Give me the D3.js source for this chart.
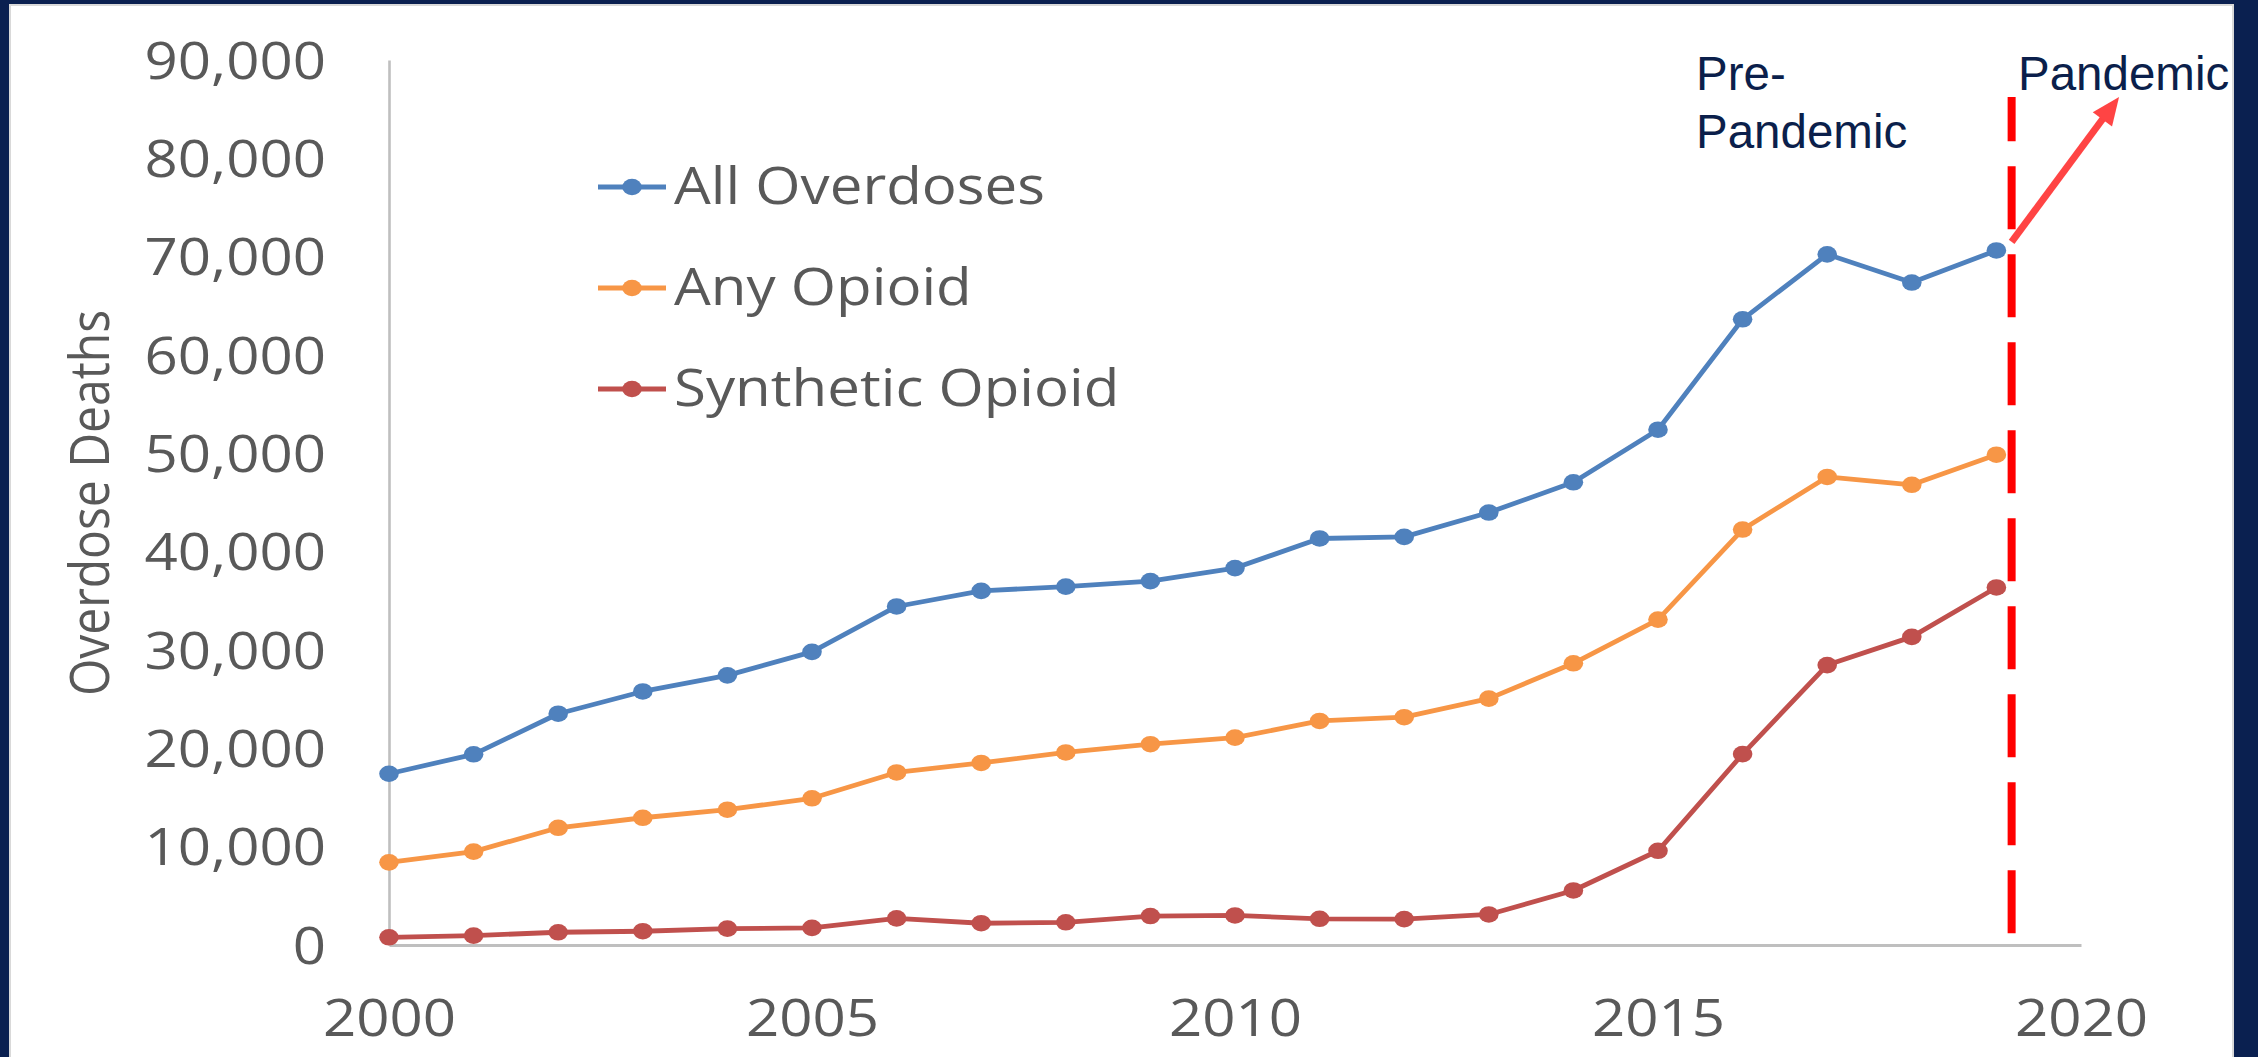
<!DOCTYPE html>
<html>
<head>
<meta charset="utf-8">
<script src="https://cdn.jsdelivr.net/npm/d3@7"></script>
<style>
  html, body { margin: 0; padding: 0; background: #0a2050; }
  svg { display: block; }
</style>
</head>
<body>
<div id="chart"></div>
<script>
// ---- data ----
const years = [2000, 2001, 2002, 2003, 2004, 2005, 2006, 2007, 2008, 2009,
               2010, 2011, 2012, 2013, 2014, 2015, 2016, 2017, 2018, 2019];
const allOverdoses = [17415, 19394, 23518, 25785, 27424, 29813, 34425, 36010, 36450, 37004,
                      38329, 41340, 41502, 43982, 47055, 52404, 63632, 70237, 67367, 70630];
const anyOpioid = [8407, 9496, 11920, 12940, 13756, 14918, 17545, 18516, 19582, 20422,
                   21089, 22784, 23166, 25052, 28647, 33091, 42249, 47600, 46802, 49860];
const syntheticOpioid = [782, 957, 1295, 1400, 1664, 1742, 2707, 2213, 2306, 2946,
                         3007, 2666, 2628, 3105, 5544, 9580, 19413, 28466, 31335, 36359];
const seriesNames = ["All Overdoses", "Any Opioid", "Synthetic Opioid"];
const seriesColors = ["#4f81bd", "#f79646", "#c0504d"];
const yTicks = [0, 10000, 20000, 30000, 40000, 50000, 60000, 70000, 80000, 90000];
const xTicks = [2000, 2005, 2010, 2015, 2020];
const yTitle = "Overdose Deaths";
// annotation: pandemic boundary and arrow (in data units)
const pandemicYear = 2019.18;
const dashRange = [1200, 86250];
const arrowFrom = [2019.18, 71500];
const arrowTo = [2020.45, 86250];
const preLabel = ["Pre-", "Pandemic"];
const postLabel = "Pandemic";

// ---- layout ----
const W = 2258, H = 1057;
const SX = 1.12; // horizontal stretch of the original picture
const svg = d3.select("#chart").append("svg").attr("width", W).attr("height", H);

svg.append("rect").attr("x", 0).attr("y", 0).attr("width", W).attr("height", H).attr("fill", "#0a2050");
svg.append("rect").attr("x", 10).attr("y", 5).attr("width", 2223).attr("height", H)
   .attr("fill", "#ffffff").attr("stroke", "#d9d9d9").attr("stroke-width", 2);

const x = d3.scaleLinear().domain([2000, 2020]).range([389, 2081]);
const y = d3.scaleLinear().domain([0, 90000]).range([945, 60]);

const textColor = "#595959";
const fontMain = "'Open Sans', sans-serif";

// y axis
const yAxis = svg.append("g").attr("transform", `translate(${x(2000)},0)`)
  .call(d3.axisLeft(y).tickValues(yTicks).tickFormat(d3.format(",")).tickSize(0).tickPadding(0));
yAxis.select(".domain").attr("stroke", "#bfbfbf").attr("stroke-width", 2.6);
yAxis.selectAll(".tick text")
  .attr("x", -63 / SX).attr("dy", "0.35em")
  .attr("transform", `scale(${SX},1)`)
  .attr("fill", textColor).attr("font-family", fontMain).attr("font-size", 52)
  .attr("text-anchor", "end");

// x axis
const xAxis = svg.append("g").attr("transform", `translate(0,${y(0)})`)
  .call(d3.axisBottom(x).tickValues(xTicks).tickFormat(d3.format("d")).tickSize(0).tickPadding(0));
xAxis.select(".domain").attr("stroke", "#bfbfbf").attr("stroke-width", 3);
xAxis.selectAll(".tick text")
  .attr("y", 73).attr("dy", "0.35em")
  .attr("transform", `scale(${SX},1)`)
  .attr("fill", textColor).attr("font-family", fontMain).attr("font-size", 52);

// y title
svg.append("text")
  .attr("transform", `translate(90,503) scale(1.15,1) rotate(-90)`)
  .attr("text-anchor", "middle").attr("dy", "0.35em")
  .attr("fill", textColor).attr("font-family", fontMain).attr("font-size", 48)
  .text(yTitle);

// series
const seriesData = [allOverdoses, anyOpioid, syntheticOpioid];
const line = d3.line().x((d, i) => x(years[i])).y(d => y(d));
seriesData.forEach((vals, si) => {
  svg.append("path").datum(vals)
    .attr("d", line).attr("fill", "none")
    .attr("stroke", seriesColors[si]).attr("stroke-width", 4.8)
    .attr("stroke-linejoin", "round");
  svg.append("g").selectAll("ellipse").data(vals).join("ellipse")
    .attr("cx", (d, i) => x(years[i])).attr("cy", d => y(d))
    .attr("rx", 9.8).attr("ry", 8.3)
    .attr("fill", seriesColors[si]);
});

// legend
const legend = svg.append("g");
seriesNames.forEach((name, i) => {
  const ly = 187 + i * 101;
  legend.append("line").attr("x1", 598).attr("x2", 666).attr("y1", ly).attr("y2", ly)
    .attr("stroke", seriesColors[i]).attr("stroke-width", 4.8);
  legend.append("ellipse").attr("cx", 632).attr("cy", ly).attr("rx", 9.8).attr("ry", 8.3)
    .attr("fill", seriesColors[i]);
  legend.append("text")
    .attr("transform", `translate(674,${ly + 17}) scale(${SX},1)`)
    .attr("fill", textColor).attr("font-family", fontMain).attr("font-size", 52)
    .text(name);
});

// pandemic dashed line
svg.append("line")
  .attr("x1", x(pandemicYear)).attr("x2", x(pandemicYear))
  .attr("y1", y(dashRange[0])).attr("y2", y(dashRange[1]))
  .attr("stroke", "#ff0000").attr("stroke-width", 8)
  .attr("stroke-dasharray", "63,25");

// arrow
const ax1 = x(arrowFrom[0]), ay1 = y(arrowFrom[1]);
const ax2 = x(arrowTo[0]), ay2 = y(arrowTo[1]);
const dx = ax2 - ax1, dy = ay2 - ay1, len = Math.hypot(dx, dy);
const ux = dx / len, uy = dy / len;
const headLen = 28, headHalf = 12;
const bx = ax2 - ux * headLen, by = ay2 - uy * headLen;
svg.append("line").attr("x1", ax1).attr("y1", ay1).attr("x2", bx + ux * 2).attr("y2", by + uy * 2)
  .attr("stroke", "#ff4444").attr("stroke-width", 7);
svg.append("polygon")
  .attr("points", [[ax2, ay2], [bx - uy * headHalf, by + ux * headHalf], [bx + uy * headHalf, by - ux * headHalf]]
    .map(p => p.join(",")).join(" "))
  .attr("fill", "#ff4444");

// annotation texts
const annoColor = "#0b1f4b";
const annoFont = "'Liberation Sans', Arial, sans-serif";
const pre = svg.append("text").attr("x", 1696).attr("y", 90)
  .attr("fill", annoColor).attr("font-family", annoFont).attr("font-size", 47.5);
pre.selectAll("tspan").data(preLabel).join("tspan")
  .attr("x", 1696).attr("dy", (d, i) => i === 0 ? 0 : 58).text(d => d);
svg.append("text").attr("x", 2018).attr("y", 90)
  .attr("fill", annoColor).attr("font-family", annoFont).attr("font-size", 47.5)
  .text(postLabel);
</script>
</body>
</html>
